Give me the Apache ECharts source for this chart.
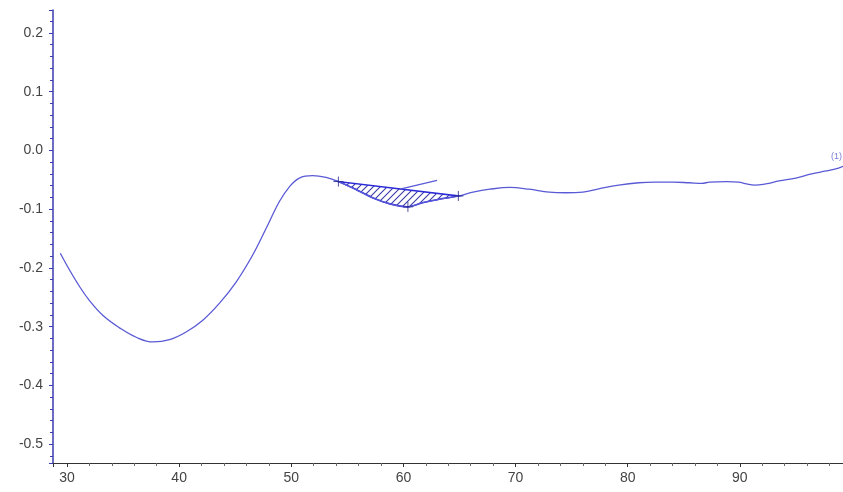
<!DOCTYPE html>
<html>
<head>
<meta charset="utf-8">
<script src="https://cdn.jsdelivr.net/npm/echarts@6/dist/echarts.min.js"></script>
<style>html,body{margin:0;padding:0;background:#fff}#c{width:843px;height:492px}</style>
</head>
<body>
<div id="c"></div>
<script>
// ---- data ----
const curveX = [29.4,30.24,31.13,32.02,33.21,34.69,36.17,37.66,39.15,40.62,42.11,43.6,45.08,46.56,47.75,48.94,49.83,50.72,51.91,53.09,54.2,55.5,57.3,58.8,60.4,61.7,63.2,64.9,66.2,67.7,69.5,71.2,73.0,74.5,76.0,77.5,79.2,81.0,82.5,84.0,85.5,86.6,87.3,88.8,89.9,90.6,91.3,92.3,93.5,95.0,96.4,97.7,98.8,99.2];
const curveY = [-0.175,-0.204,-0.232,-0.256,-0.281,-0.302,-0.318,-0.326,-0.322,-0.309,-0.289,-0.260,-0.224,-0.178,-0.133,-0.087,-0.062,-0.047,-0.043,-0.046,-0.053,-0.064,-0.081,-0.091,-0.096,-0.089,-0.083,-0.0775,-0.071,-0.066,-0.063,-0.066,-0.071,-0.072,-0.071,-0.065,-0.059,-0.055,-0.054,-0.054,-0.055,-0.056,-0.054,-0.053,-0.054,-0.057,-0.059,-0.057,-0.052,-0.047,-0.040,-0.035,-0.030,-0.027];
const markerX = [54.2, 60.4, 64.9];
const markerY = [-0.053, -0.096, -0.0775];
const tangentX = [59.7, 63.0];
const tangentY = [-0.066, -0.051];
const endLabel = '(1)';
const xTicks = [30,40,50,60,70,80,90];
const yTicks = [0.2,0.1,0.0,-0.1,-0.2,-0.3,-0.4,-0.5];

// ---- build ----
const curveData = curveX.map((x,i)=>[x,curveY[i]]);
const hatchPts = [];
curveX.forEach((x,i)=>{ if (x>=markerX[0]-1e-9 && x<=markerX[2]+1e-9) hatchPts.push([x,curveY[i]]); });

const pc = document.createElement('canvas');
pc.width = 7; pc.height = 7;
const g = pc.getContext('2d');
g.strokeStyle = '#3a3aa8'; g.lineWidth = 1.1;
g.beginPath();
g.moveTo(0,7); g.lineTo(7,0);
g.moveTo(-1,1); g.lineTo(1,-1);
g.moveTo(6,8); g.lineTo(8,6);
g.stroke();

const lastIdx = curveData.length-1;

const chart = echarts.init(document.getElementById('c'), null, {renderer:'canvas'});
const font = {fontFamily:'Liberation Sans, Arial, sans-serif', fontSize:14, color:'#444'};
chart.setOption({
  animation:false,
  backgroundColor:'#fff',
  grid:{left:53, right:0, top:10, bottom:29, containLabel:false},
  xAxis:{
    type:'value', min:28.75, max:99.2, splitNumber:7,
    axisLine:{show:true, onZero:false, lineStyle:{color:'#333', width:1}},
    axisTick:{show:true, inside:false, length:4, lineStyle:{color:'#333'}},
    minorTick:{show:true, splitNumber:5, length:3, lineStyle:{color:'#666'}},
    splitLine:{show:false},
    axisLabel:Object.assign({margin:8, showMinLabel:false, showMaxLabel:false,
      formatter:v=> xTicks.includes(Math.round(v*1000)/1000) ? String(Math.round(v)) : ''}, font)
  },
  yAxis:{
    type:'value', min:-0.532, max:0.239, splitNumber:8,
    axisLine:{show:true, onZero:false, lineStyle:{color:'#3b3bb0', width:1.5}},
    axisTick:{show:true, inside:false, length:4, lineStyle:{color:'#3b3bb0'}},
    minorTick:{show:true, splitNumber:5, length:3, lineStyle:{color:'#3b3bb0'}},
    splitLine:{show:false},
    axisLabel:Object.assign({margin:10, showMinLabel:false, showMaxLabel:false,
      formatter:v=>{ const r=Math.round(v*1000)/1000; return yTicks.some(t=>Math.abs(t-r)<1e-6) ? r.toFixed(1) : ''; }}, font)
  },
  series:[
    {
      type:'custom', coordinateSystem:'cartesian2d', data:[[markerX[0],markerY[0]]], z:3,
      renderItem:(params, api)=>{
        const pts = hatchPts.map(p=>api.coord(p));
        pts.push(api.coord([markerX[2],markerY[2]]));
        pts.push(api.coord([markerX[0],markerY[0]]));
        return {type:'polygon', shape:{points:pts, smooth:0.2},
          style:{fill:{image:pc, repeat:'repeat'}, stroke:'#2a2ad8', lineWidth:1.6}};
      }
    },
    {
      type:'line', data:curveData, smooth:0.4, showSymbol:false, symbol:'none', z:4,
      lineStyle:{color:'#5a5ad6', width:1.3}
    },
    {
      type:'line', data:tangentX.map((x,i)=>[x,tangentY[i]]), showSymbol:false, symbol:'none', z:4,
      lineStyle:{color:'#5a5ad6', width:1.2}
    },
    {
      type:'scatter', data:markerX.map((x,i)=>[x,markerY[i]]), z:5,
      symbol:'path://M0,5L10,5M5,0L5,10', symbolSize:10,
      itemStyle:{color:'none', borderColor:'#222288', borderWidth:1}
    },
    {
      type:'scatter', data:[curveData[lastIdx]], z:6, symbolSize:1, clip:false,
      itemStyle:{color:'rgba(0,0,0,0)'},
      label:{show:true, formatter:endLabel, position:'top', align:'right', offset:[-1,0],
        fontSize:9, color:'#5a5ad0', fontFamily:'Liberation Sans, Arial, sans-serif'}
    }
  ]
});
</script>
</body>
</html>
